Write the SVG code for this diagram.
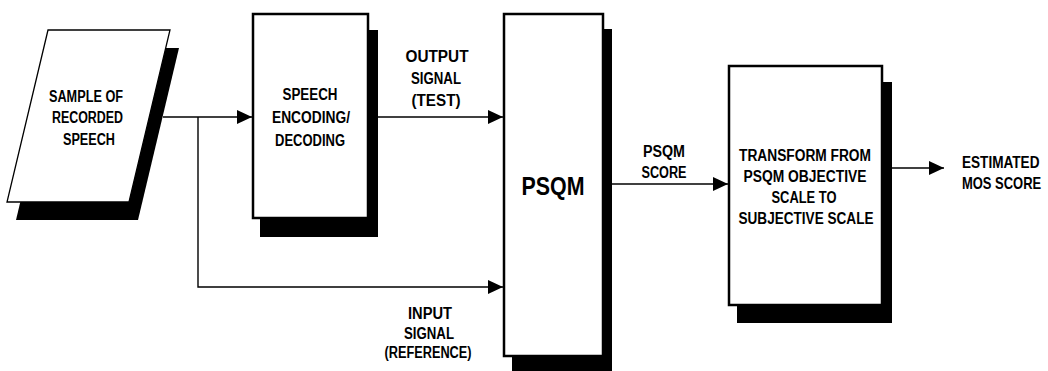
<svg xmlns="http://www.w3.org/2000/svg" width="1048" height="371" viewBox="0 0 1048 371">
<style>
.shadow{fill:#000;stroke:none}
.box{fill:#fff;stroke:#000;stroke-width:2.5}
.para{fill:#fff;stroke:#000;stroke-width:1.3}
.conn{fill:none;stroke:#000;stroke-width:1.4}
text{font-family:"Liberation Sans",Arial,sans-serif;font-weight:bold;font-size:16px;fill:#000;text-anchor:middle}
.big{font-size:25px}
.left{text-anchor:start}
</style>
<defs>
<marker id="arr" markerUnits="userSpaceOnUse" markerWidth="16" markerHeight="15" refX="15" refY="7" orient="auto">
<path d="M0,0 L15,7 L0,14 z" fill="#000"/>
</marker>
</defs>
<rect width="1048" height="371" fill="#fff"/>
<g id="sample">
<polygon class="shadow" points="57,48 179,48 138,220 16,220"/>
<polygon class="para" points="48,30 170,30 129,202 7,202"/>
<text x="86" y="102" textLength="74" lengthAdjust="spacingAndGlyphs">SAMPLE OF</text>
<text x="87.5" y="123" textLength="71" lengthAdjust="spacingAndGlyphs">RECORDED</text>
<text x="89" y="145" textLength="52" lengthAdjust="spacingAndGlyphs">SPEECH</text>
</g>
<g id="codec">
<rect class="shadow" x="260" y="30" width="118" height="207"/>
<rect class="box" x="253" y="14" width="115" height="204"/>
<text x="310" y="100" textLength="55" lengthAdjust="spacingAndGlyphs">SPEECH</text>
<text x="311" y="123" textLength="78" lengthAdjust="spacingAndGlyphs">ENCODING/</text>
<text x="310" y="146" textLength="70" lengthAdjust="spacingAndGlyphs">DECODING</text>
</g>
<g id="psqm">
<rect class="shadow" x="512" y="29" width="100" height="342"/>
<rect class="box" x="504" y="14" width="99" height="342"/>
<text class="big" x="553" y="195" textLength="63" lengthAdjust="spacingAndGlyphs">PSQM</text>
</g>
<g id="transform">
<rect class="shadow" x="737" y="82" width="155" height="241"/>
<rect class="box" x="729" y="66" width="153" height="239"/>
<text x="805" y="161" textLength="132" lengthAdjust="spacingAndGlyphs">TRANSFORM FROM</text>
<text x="805" y="182" textLength="123" lengthAdjust="spacingAndGlyphs">PSQM OBJECTIVE</text>
<text x="804" y="203" textLength="65" lengthAdjust="spacingAndGlyphs">SCALE TO</text>
<text x="806" y="224" textLength="135" lengthAdjust="spacingAndGlyphs">SUBJECTIVE SCALE</text>
</g>
<g id="connectors">
<path class="conn" d="M163,117 H252" marker-end="url(#arr)"/>
<path class="conn" d="M198,117 V287 H503" marker-end="url(#arr)"/>
<path class="conn" d="M369,117 H503" marker-end="url(#arr)"/>
<path class="conn" d="M604,184 H728" marker-end="url(#arr)"/>
<path class="conn" d="M883,168 H944" marker-end="url(#arr)"/>
</g>
<g id="labels">
<text x="437" y="62" textLength="63" lengthAdjust="spacingAndGlyphs">OUTPUT</text>
<text x="436" y="84" textLength="50" lengthAdjust="spacingAndGlyphs">SIGNAL</text>
<text x="436" y="106" textLength="49" lengthAdjust="spacingAndGlyphs">(TEST)</text>
<text x="430" y="319" textLength="44" lengthAdjust="spacingAndGlyphs">INPUT</text>
<text x="429" y="339" textLength="50" lengthAdjust="spacingAndGlyphs">SIGNAL</text>
<text x="428" y="358" textLength="87" lengthAdjust="spacingAndGlyphs">(REFERENCE)</text>
<text x="664" y="157" textLength="42" lengthAdjust="spacingAndGlyphs">PSQM</text>
<text x="664" y="178" textLength="45" lengthAdjust="spacingAndGlyphs">SCORE</text>
<text class="left" transform="translate(962,168) scale(0.85,1)">ESTIMATED</text>
<text class="left" transform="translate(962,189) scale(0.81,1)">MOS SCORE</text>
</g>
</svg>
